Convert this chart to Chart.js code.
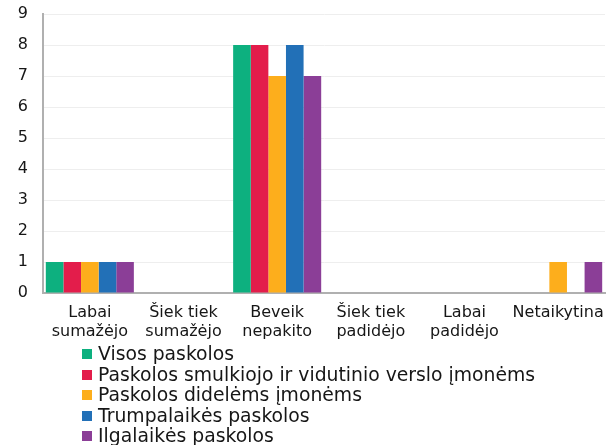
<!DOCTYPE html>
<html><head><meta charset="utf-8">
<script src="https://cdn.jsdelivr.net/npm/chart.js@4/dist/chart.umd.min.js"></script>
<style>
html,body{margin:0;padding:0;background:#fff;overflow:hidden;}
#wrap{position:relative;width:611px;height:345px;}
#legend{position:absolute;left:82px;top:344px;font-family:"DejaVu Sans",Verdana,sans-serif;font-size:18.8px;color:#161616;}
#legend div{height:20.5px;line-height:20.5px;white-space:nowrap;display:flex;align-items:center;}
#legend span.b{display:inline-block;width:10px;height:10px;margin-right:6px;}
</style></head>
<body>
<div id="wrap"><canvas id="c"></canvas></div>
<div id="legend"></div>
<script>
const categories = [["Labai","sumažėjo"],["Šiek tiek","sumažėjo"],["Beveik","nepakito"],["Šiek tiek","padidėjo"],["Labai","padidėjo"],"Netaikytina"];
const seriesNames = ["Visos paskolos","Paskolos smulkiojo ir vidutinio verslo įmonėms","Paskolos didelėms įmonėms","Trumpalaikės paskolos","Ilgalaikės paskolos"];
const visos = [1,0,8,0,0,0];
const smulkiojo = [1,0,8,0,0,0];
const dideliems = [1,0,7,0,0,1];
const trumpalaikes = [1,0,8,0,0,0];
const ilgalaikes = [1,0,7,0,0,1];
const yTicks = [0,1,2,3,4,5,6,7,8,9];
const colors = ["#0db07f","#e31d4b","#fdae1c","#2270b7","#8b3e97"];
const values = [visos,smulkiojo,dideliems,trumpalaikes,ilgalaikes];

const datasets = seriesNames.map((n,i)=>({label:n,data:values[i],backgroundColor:colors[i],borderWidth:0,barPercentage:1,categoryPercentage:0.94}));
const font = {family:"'DejaVu Sans', Verdana, sans-serif", size:16};
const chart = new Chart(document.getElementById('c'),{
  type:'bar',
  data:{labels:categories,datasets},
  options:{
    responsive:true,maintainAspectRatio:false,animation:false,
    layout:{padding:{left:16,right:6,top:14,bottom:2},autoPadding:false},
    plugins:{legend:{display:false},tooltip:{enabled:false}},
    scales:{
      x:{grid:{display:false,drawTicks:false},border:{color:"#b0b0b0",width:2},
         afterFit:(s)=>{s.paddingLeft=0;s.paddingRight=0;s.height=50;},
         ticks:{font:{...font,lineHeight:1.2},color:"#161616",padding:10,maxRotation:0,autoSkip:false}},
      y:{min:0,max:9,afterBuildTicks:(ax)=>{ax.ticks=yTicks.map(v=>({value:v}));},
         afterFit:(s)=>{s.width=27;s.paddingTop=0;s.paddingBottom=0;},
         grid:{color:"#eeeeee",drawTicks:false},border:{color:"#b0b0b0",width:2},
         ticks:{font:font,color:"#161616",padding:15}}
    }
  }
});
const lg=document.getElementById('legend');
chart.data.datasets.forEach(d=>{
  const row=document.createElement('div');
  const b=document.createElement('span');b.className='b';b.style.background=d.backgroundColor;
  row.appendChild(b);row.appendChild(document.createTextNode(d.label));lg.appendChild(row);
});
</script>
</body></html>
